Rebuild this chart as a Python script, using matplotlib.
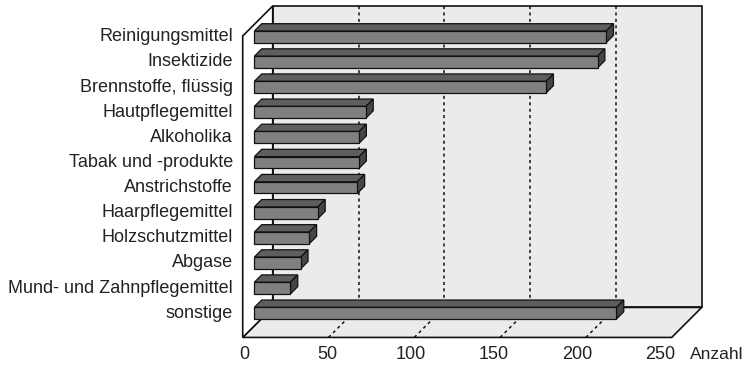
import matplotlib
matplotlib.use("Agg")
import matplotlib.pyplot as plt
from matplotlib.patches import Polygon

categories = ["Reinigungsmittel", "Insektizide", "Brennstoffe, flüssig",
              "Hautpflegemittel", "Alkoholika", "Tabak und -produkte",
              "Anstrichstoffe", "Haarpflegemittel", "Holzschutzmittel",
              "Abgase", "Mund- und Zahnpflegemittel", "sonstige"]
counts = [205, 200, 170, 65, 61, 61, 60, 37, 32, 27, 21, 211]
ticks = [0, 50, 100, 150, 200, 250]
x_label = "Anzahl"

plt.rcParams["font.family"] = ["Liberation Sans", "DejaVu Sans"]

W, H = 745, 366
fig = plt.figure(figsize=(W / 100, H / 100), dpi=100)
ax = fig.add_axes([0, 0, 1, 1])
ax.set_axis_off()

# pseudo-3d frame: value axis scale, row spacing and depth (in pixels)
px_val = 1.716
px_row = 25.12
x0, y0 = 242.7, 48.55
depth = 30.0
vmax = ticks[-1]
n = len(categories)
r_top, r_bot = -0.5, n - 0.5

ax.set_xlim(-x0 / px_val, (W - x0) / px_val)
ax.set_ylim((H - y0) / px_row, -y0 / px_row)


def proj(v, r, d):
    return (v + d / px_val, r - d / px_row)


def poly(pts, **kw):
    ax.add_patch(Polygon([proj(*p) for p in pts], closed=True, **kw))


def line(p, q, **kw):
    a, b = proj(*p), proj(*q)
    ax.plot([a[0], b[0]], [a[1], b[1]], **kw)


wall = "#ebebeb"
edge = "#111111"
fs = 13

# back wall, floor, left wall
poly([(0, r_top, depth), (vmax, r_top, depth), (vmax, r_bot, depth), (0, r_bot, depth)],
     facecolor=wall, edgecolor=edge, lw=1.2, zorder=1)
poly([(0, r_bot, 0), (vmax, r_bot, 0), (vmax, r_bot, depth), (0, r_bot, depth)],
     facecolor=wall, edgecolor=edge, lw=1.2, zorder=1)
poly([(0, r_top, 0), (0, r_top, depth), (0, r_bot, depth), (0, r_bot, 0)],
     facecolor="white", edgecolor=edge, lw=1.2, zorder=1)

# dashed gridlines on back wall and floor
for t in ticks[1:-1]:
    line((t, r_top, depth), (t, r_bot, depth), color=edge, lw=1.1,
         ls=(0, (2, 2.2)), zorder=2)
    line((t, r_bot, 0), (t, r_bot, depth), color=edge, lw=1.1,
         ls=(0, (2, 2.2)), zorder=2)

# bars as boxes
d0, d1 = 11.7, 19.0
h = 11.7 / 2 / px_row
for i, v in enumerate(counts):
    z = 3 + i
    top, bot = i - h, i + h
    poly([(0, top, d0), (v, top, d0), (v, top, d1), (0, top, d1)],
         facecolor="#5e5e5e", edgecolor=edge, lw=0.9, zorder=z)
    poly([(v, top, d0), (v, bot, d0), (v, bot, d1), (v, top, d1)],
         facecolor="#464646", edgecolor=edge, lw=0.9, zorder=z)
    poly([(0, top, d0), (v, top, d0), (v, bot, d0), (0, bot, d0)],
         facecolor="#808080", edgecolor=edge, lw=0.9, zorder=z)

    cx, cy = proj(0, i, d0)
    ax.text(cx - 21.4 / px_val, cy, categories[i], ha="right",
            va="center", fontsize=fs, color="#222222")

# value labels along the front edge
for t in ticks:
    lx, ly = proj(t * 0.971, r_bot, 0)
    ax.text(lx + 1.3 / px_val, ly + 17.5 / px_row, str(t), ha="center",
            va="center", fontsize=fs, color="#222222")
lx, ly = proj(vmax, r_bot, 0)
ax.text(lx + 18 / px_val, ly + 17.5 / px_row, x_label, ha="left",
        va="center", fontsize=12.5, color="#222222")

fig.savefig("out.png", dpi=100, facecolor="white")
